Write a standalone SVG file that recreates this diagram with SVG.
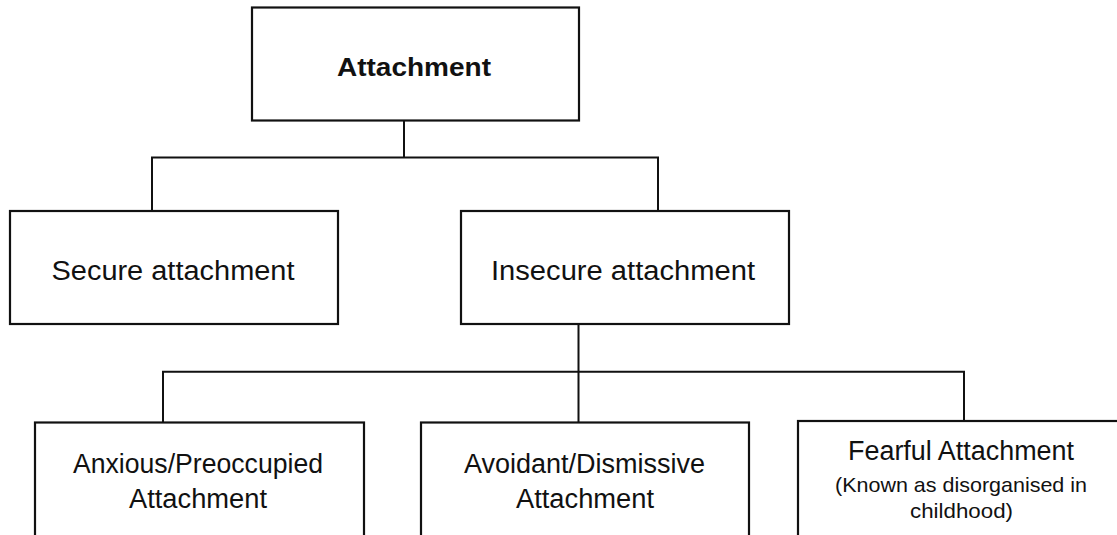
<svg xmlns="http://www.w3.org/2000/svg" width="1117" height="535" viewBox="0 0 1117 535">
<style>
.box{fill:#fff;stroke:#111;stroke-width:2.2}
.con{fill:none;stroke:#111;stroke-width:2}
.t{font-family:"Liberation Sans",Arial,sans-serif;font-size:27px;fill:#111;text-anchor:middle}
.b{font-weight:bold;font-size:26px}
.s{font-size:21px}
</style>
<rect width="1117" height="535" fill="#fff"/>
<g id="connectors">
<path class="con" d="M404,121V157.5M152,211V157.5H658V211"/>
<path class="con" d="M578.5,324V422M163,422V371.7H964V422"/>
</g>
<g id="attachment">
<rect class="box" x="252" y="7.5" width="327" height="113"/>
<text class="t b" x="414" y="76" textLength="154" lengthAdjust="spacingAndGlyphs">Attachment</text>
</g>
<g id="secure">
<rect class="box" x="10" y="211" width="328" height="113"/>
<text class="t" x="173" y="280" textLength="243" lengthAdjust="spacingAndGlyphs">Secure attachment</text>
</g>
<g id="insecure">
<rect class="box" x="461" y="211" width="328" height="113"/>
<text class="t" x="623" y="279.5" textLength="264" lengthAdjust="spacingAndGlyphs">Insecure attachment</text>
</g>
<g id="anxious">
<rect class="box" x="35" y="422.5" width="329" height="125"/>
<text class="t" x="198" y="472.5" textLength="250" lengthAdjust="spacingAndGlyphs">Anxious/Preoccupied</text>
<text class="t" x="198" y="507.5" textLength="138" lengthAdjust="spacingAndGlyphs">Attachment</text>
</g>
<g id="avoidant">
<rect class="box" x="421" y="422.5" width="328" height="125"/>
<text class="t" x="584.5" y="472.5" textLength="241" lengthAdjust="spacingAndGlyphs">Avoidant/Dismissive</text>
<text class="t" x="585" y="507.5" textLength="138" lengthAdjust="spacingAndGlyphs">Attachment</text>
</g>
<g id="fearful">
<rect class="box" x="798" y="421" width="330" height="125"/>
<text class="t" x="961" y="459.5" textLength="226" lengthAdjust="spacingAndGlyphs">Fearful Attachment</text>
<text class="t s" x="961" y="491.5" textLength="252" lengthAdjust="spacingAndGlyphs">(Known as disorganised in</text>
<text class="t s" x="961.5" y="518" textLength="103" lengthAdjust="spacingAndGlyphs">childhood)</text>
</g>
</svg>
